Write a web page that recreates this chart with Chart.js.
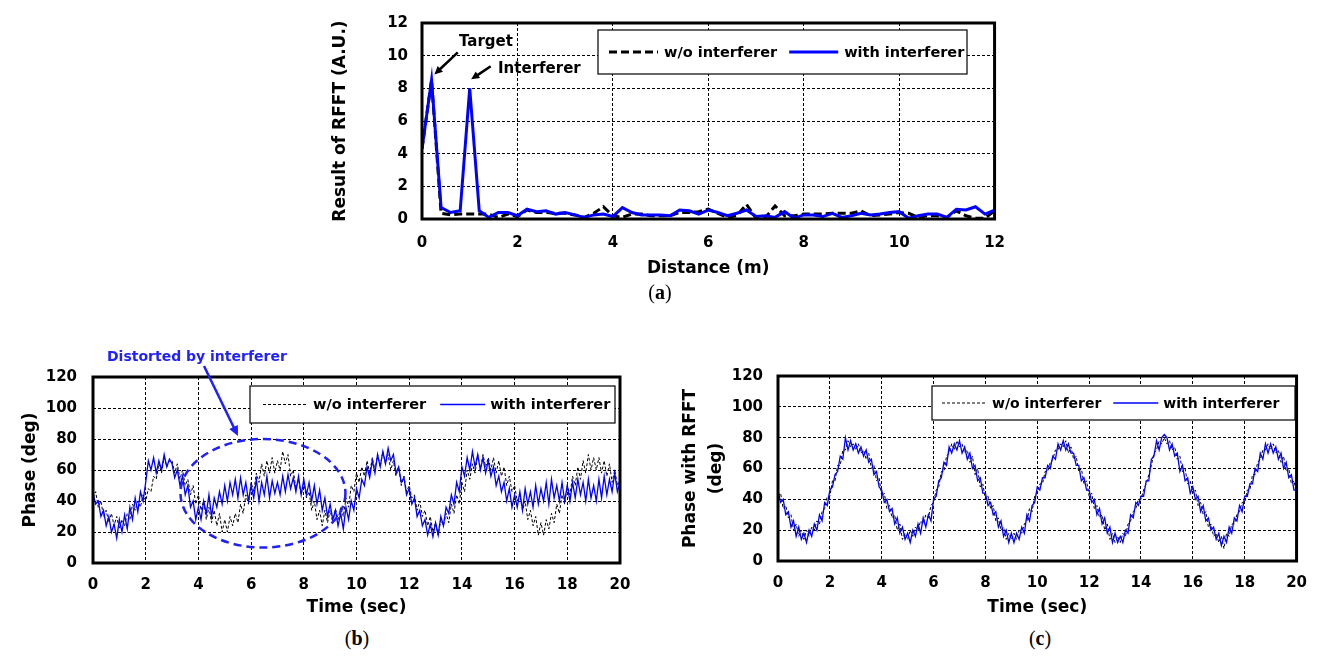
<!DOCTYPE html>
<html>
<head>
<meta charset="utf-8">
<script src="https://cdn.jsdelivr.net/npm/chart.js@4/dist/chart.umd.min.js"></script>
<style>
  body { margin: 0; width: 1320px; height: 658px; background: #fff; position: relative; overflow: hidden; }
  canvas { position: absolute; }
  .cap { position: absolute; font-family: "Liberation Serif"; font-size: 20px; transform: translateX(-50%); color: #000; }
</style>
</head>
<body>
<canvas id="chartA" width="720" height="290" style="left:300px;top:0px"></canvas>
<canvas id="chartB" width="650" height="285" style="left:0px;top:340px"></canvas>
<canvas id="chartC" width="660" height="285" style="left:660px;top:340px"></canvas>
<div class="cap" style="left:660px;top:281px">(<b>a</b>)</div>
<div class="cap" style="left:357px;top:627px">(<b>b</b>)</div>
<div class="cap" style="left:1040px;top:627px">(<b>c</b>)</div>
<script>
// (a) range profile, one sample every 0.2 m
const distStep = 0.2;
const rfftNoInterferer = [4.3, 8.5, 0.35, 0.25, 0.3, 0.3, 0.3, 0.3, 0.1, 0.3,
  0.15, 0.55, 0.4, 0.4, 0.35, 0.35, 0.25, 0.1, 0.35, 0.75,
  0.2, 0.1, 0.3, 0.3, 0.2, 0.2, 0.2, 0.4, 0.4, 0.45,
  0.6, 0.35, 0.1, 0.2, 0.9, 0.05, 0.1, 0.8, 0.2, 0.2,
  0.3, 0.3, 0.3, 0.35, 0.35, 0.35, 0.5, 0.2, 0.25, 0.3,
  0.4, 0.35, 0.1, 0.2, 0.2, 0.1, 0.5, 0.2, 0.05, 0.05, 0.5];
const rfftWithInterferer = [4.3, 8.5, 0.7, 0.4, 0.5, 8.0, 0.5, 0.1, 0.4, 0.4,
  0.2, 0.6, 0.45, 0.5, 0.3, 0.4, 0.25, 0.1, 0.25, 0.3,
  0.15, 0.7, 0.4, 0.25, 0.25, 0.25, 0.2, 0.55, 0.5, 0.3,
  0.55, 0.4, 0.2, 0.35, 0.55, 0.15, 0.2, 0.1, 0.45, 0.05,
  0.25, 0.25, 0.15, 0.35, 0.1, 0.2, 0.35, 0.25, 0.3, 0.4,
  0.45, 0.05, 0.2, 0.3, 0.3, 0.1, 0.6, 0.55, 0.75, 0.3, 0.55];

// (b) and (c) phase, one sample every 0.1 s
const timeStep = 0.1;
const phaseNoInterferer = [42,46,36,40,30,34,26,32,24,30,
  22,28,24,32,28,38,34,40,36,44,
  40,48,46,56,54,64,58,68,62,66,
  66,58,64,54,60,50,54,44,50,38,
  44,34,40,28,36,26,34,24,32,20,
  28,20,30,24,32,26,38,32,44,38,
  52,46,58,52,64,56,66,58,68,58,
  66,60,72,64,70,56,60,48,54,44,
  52,42,46,34,40,28,34,24,34,26,
  34,26,35,28,36,30,42,36,50,46,
  58,52,62,56,66,58,68,60,70,62,
  72,64,70,60,66,56,62,50,56,46,
  50,42,44,34,40,30,34,24,30,20,
  26,18,28,24,32,26,38,32,44,38,
  52,46,60,54,64,58,70,60,70,62,
  68,60,68,58,66,56,62,50,56,46,
  50,40,44,34,40,28,34,24,30,18,
  26,18,28,22,32,26,38,32,44,38,
  50,44,56,50,62,54,66,58,70,60,
  68,60,68,58,66,56,64,52,60,50,
  54];
const phaseWithInterferer = [45,38,40,30,34,24,30,20,25,16,
  28,20,31,22,36,28,42,33,46,40,
  52,66,60,68,58,66,60,70,62,67,
  64,55,60,50,56,44,50,36,40,28,
  36,28,40,32,44,30,42,36,46,38,
  50,40,52,44,54,42,55,44,52,40,
  50,42,54,40,52,44,56,42,53,45,
  52,44,56,46,57,48,55,46,56,44,
  54,44,52,40,50,38,47,34,42,30,
  38,28,34,24,32,22,36,28,40,34,
  48,42,54,50,62,55,66,58,70,62,
  72,64,74,66,70,58,62,52,55,44,
  48,38,42,30,34,24,28,18,25,17,
  26,18,30,24,36,32,44,38,52,46,
  62,56,68,60,72,62,70,60,68,58,
  66,56,62,50,56,46,52,40,48,36,
  44,36,46,34,48,38,46,36,50,38,
  48,40,52,38,54,42,50,40,52,40,
  50,40,52,42,54,44,52,40,54,42,
  50,40,54,42,56,44,54,46,58,46,
  52];
const rfftPhaseNoInterferer = [42,44,34,36,28,30,20,24,16,20,
  14,20,16,22,20,26,24,32,34,42,
  42,52,52,62,62,72,72,78,74,76,
  72,76,70,72,66,70,60,62,52,54,
  42,44,34,36,28,30,20,24,14,18,
  14,20,16,22,20,26,24,30,28,36,
  38,46,48,58,58,68,70,76,72,78,
  74,76,70,72,64,68,56,60,48,50,
  40,42,34,36,26,28,20,22,14,18,
  14,18,14,20,18,24,26,34,32,42,
  44,50,50,58,58,64,66,72,72,76,
  74,78,70,74,66,68,58,60,50,52,
  42,44,34,36,28,30,20,24,14,18,
  12,16,12,18,16,24,26,32,34,40,
  40,46,50,56,62,70,72,78,76,80,
  76,78,72,74,66,68,58,60,50,52,
  44,46,36,38,30,32,22,24,16,18,
  12,16,8,18,16,24,24,30,32,38,
  38,46,46,56,56,64,66,72,72,76,
  72,76,70,72,64,68,58,60,50,52,
  44];
const rfftPhaseWithInterferer = [46,38,40,30,32,22,26,16,22,14,
  18,12,20,16,24,20,30,26,38,36,
  46,48,56,58,68,66,80,72,78,72,
  76,70,74,68,72,64,66,56,58,48,
  46,38,40,32,34,24,28,18,22,14,
  18,12,20,16,24,18,28,22,30,26,
  40,42,52,54,64,62,74,70,76,72,
  78,70,74,66,70,60,62,52,54,44,
  44,36,38,30,32,22,26,16,20,12,
  18,12,18,14,22,18,30,26,36,38,
  48,46,54,54,62,60,68,66,76,72,
  78,72,76,70,70,62,62,52,54,46,
  46,38,40,30,34,24,28,18,22,12,
  18,12,16,12,20,18,30,28,38,36,
  42,42,52,52,66,68,78,72,80,82,
  80,72,76,68,70,58,62,52,54,44,
  48,40,42,32,36,26,28,20,22,14,
  18,10,16,12,22,18,28,26,36,32,
  42,42,50,50,60,58,70,66,76,70,
  76,70,74,66,70,60,64,54,56,46,
  46];

const legendLabels = ["w/o interferer", "with interferer"];
const FONT = "DejaVu Sans";

function toPoints(values, step) {
  return values.map((v, i) => ({ x: +(i * step).toFixed(2), y: v }));
}

function drawArrow(ctx, x1, y1, x2, y2, color, width, head) {
  const ang = Math.atan2(y2 - y1, x2 - x1);
  ctx.save();
  ctx.strokeStyle = color;
  ctx.fillStyle = color;
  ctx.lineWidth = width;
  ctx.beginPath();
  ctx.moveTo(x1, y1);
  ctx.lineTo(x2 - Math.cos(ang) * head * 0.8, y2 - Math.sin(ang) * head * 0.8);
  ctx.stroke();
  ctx.beginPath();
  ctx.moveTo(x2, y2);
  ctx.lineTo(x2 - head * Math.cos(ang - 0.45), y2 - head * Math.sin(ang - 0.45));
  ctx.lineTo(x2 - head * Math.cos(ang + 0.45), y2 - head * Math.sin(ang + 0.45));
  ctx.closePath();
  ctx.fill();
  ctx.restore();
}

// thick plot frame + boxed legend
const framePlugin = {
  id: "frame",
  afterDatasetsDraw(chart, args, opts) {
    const { ctx, chartArea: a } = chart;
    ctx.save();
    ctx.strokeStyle = "#000";
    ctx.lineWidth = 3;
    ctx.strokeRect(a.left, a.top, a.right - a.left, a.bottom - a.top);

    const box = opts.box;
    ctx.fillStyle = "#fff";
    ctx.fillRect(box.x, box.y, box.w, box.h);
    ctx.lineWidth = 1.2;
    ctx.strokeRect(box.x, box.y, box.w, box.h);
    ctx.font = "bold " + opts.fontSize + "px " + FONT;
    ctx.textBaseline = "middle";
    ctx.fillStyle = "#000";
    let x = box.x + opts.pad;
    const cy = box.y + box.h / 2;
    chart.data.datasets.forEach((ds) => {
      ctx.save();
      ctx.strokeStyle = ds.borderColor;
      ctx.lineWidth = ds.borderWidth;
      ctx.setLineDash(ds.borderDash || []);
      ctx.beginPath();
      ctx.moveTo(x, cy);
      ctx.lineTo(x + opts.sample, cy);
      ctx.stroke();
      ctx.restore();
      x += opts.sample + opts.gap;
      ctx.fillText(ds.label, x, cy + 1);
      x += ctx.measureText(ds.label).width + opts.spacing;
    });
    ctx.restore();
  },
};

function baseOptions(cfg) {
  return {
    responsive: false,
    animation: false,
    layout: { padding: cfg.padding },
    plugins: {
      legend: { display: false },
      tooltip: { enabled: false },
      frame: cfg.legend,
    },
    scales: {
      x: {
        type: "linear",
        min: 0,
        max: cfg.xMax,
        afterFit: (s) => { s.height = cfg.xAxisHeight; },
        ticks: { stepSize: cfg.xStep, color: "#000", padding: cfg.xTickPad, font: { family: FONT, size: 15, weight: "bold" } },
        grid: { color: "#000", lineWidth: 1, drawTicks: false },
        border: { display: false, dash: [3, 2] },
        title: { display: true, text: cfg.xTitle, color: "#000", padding: { top: 0, bottom: cfg.xTitlePad }, font: { family: FONT, size: 17, weight: "bold" } },
      },
      y: {
        min: 0,
        max: cfg.yMax,
        afterFit: (s) => { s.width = cfg.yAxisWidth; },
        ticks: { stepSize: cfg.yStep, color: "#000", padding: cfg.yTickPad, font: { family: FONT, size: 15, weight: "bold" } },
        grid: { color: "#000", lineWidth: 1, drawTicks: false },
        border: { display: false, dash: [3, 2] },
        title: { display: true, text: cfg.yTitle, color: "#000", padding: { top: cfg.yTitlePad, bottom: 0 }, font: { family: FONT, size: 17, weight: "bold", lineHeight: 1.5 } },
      },
    },
  };
}

// (a)
const annotA = {
  id: "annotA",
  afterDatasetsDraw(chart) {
    const { ctx, scales: { x, y } } = chart;
    ctx.save();
    ctx.font = "bold 15px " + FONT;
    ctx.fillStyle = "#000";
    ctx.textAlign = "center";
    ctx.textBaseline = "middle";
    ctx.fillText("Target", x.getPixelForValue(1.34), y.getPixelForValue(10.8));
    ctx.fillText("Interferer", x.getPixelForValue(2.46), y.getPixelForValue(9.2));
    drawArrow(ctx, x.getPixelForValue(0.75), y.getPixelForValue(10.2), x.getPixelForValue(0.26), y.getPixelForValue(8.85), "#000", 2.5, 9);
    drawArrow(ctx, x.getPixelForValue(1.44), y.getPixelForValue(9.35), x.getPixelForValue(1.03), y.getPixelForValue(8.55), "#000", 2.5, 9);
    ctx.restore();
  },
};

new Chart(document.getElementById("chartA"), {
  type: "line",
  data: {
    datasets: [
      { label: legendLabels[0], data: toPoints(rfftNoInterferer, distStep), borderColor: "#000", borderWidth: 3, borderDash: [8, 4], pointRadius: 0, tension: 0, order: 1 },
      { label: legendLabels[1], data: toPoints(rfftWithInterferer, distStep), borderColor: "#0000ff", borderWidth: 3, pointRadius: 0, tension: 0, order: 0 },
    ],
  },
  options: baseOptions({
    padding: { top: 19, right: 23, left: 0, bottom: 0 },
    xMax: 12, xStep: 2, yMax: 12, yStep: 2,
    xAxisHeight: 71, yAxisWidth: 122, xTickPad: 15, yTickPad: 14,
    xTitle: "Distance (m)", xTitlePad: 11,
    yTitle: "Result of RFFT (A.U.)", yTitlePad: 28,
    legend: { box: { x: 298, y: 30, w: 369, h: 44 }, pad: 11, sample: 49, gap: 6, spacing: 12, fontSize: 14.5 },
  }),
  plugins: [framePlugin, annotA],
});

// (b)
const annotB = {
  id: "annotB",
  afterDatasetsDraw(chart) {
    const { ctx, scales: { x, y } } = chart;
    ctx.save();
    ctx.strokeStyle = "#1f1fff";
    ctx.lineWidth = 2.5;
    ctx.setLineDash([8, 5]);
    const cx = x.getPixelForValue(6.45), cy = y.getPixelForValue(45);
    const rx = x.getPixelForValue(9.58) - cx, ry = cy - y.getPixelForValue(80);
    ctx.beginPath();
    ctx.ellipse(cx, cy, rx, ry, 0, 0, Math.PI * 2);
    ctx.stroke();
    ctx.setLineDash([]);
    ctx.font = "bold 14px " + FONT;
    ctx.fillStyle = "#1f1fff";
    ctx.textBaseline = "middle";
    ctx.fillText("Distorted by interferer", 107, 17);
    drawArrow(ctx, 204, 26, x.getPixelForValue(5.5), y.getPixelForValue(82), "#1f1fff", 2.5, 11);
    ctx.restore();
  },
};

new Chart(document.getElementById("chartB"), {
  type: "line",
  data: {
    datasets: [
      { label: legendLabels[0], data: toPoints(phaseNoInterferer, timeStep), borderColor: "#000", borderWidth: 1, borderDash: [3, 2], pointRadius: 0, tension: 0, order: 1 },
      { label: legendLabels[1], data: toPoints(phaseWithInterferer, timeStep), borderColor: "#0000ff", borderWidth: 1.3, pointRadius: 0, tension: 0, order: 0 },
    ],
  },
  options: baseOptions({
    padding: { top: 37, right: 30, left: 0, bottom: 0 },
    xMax: 20, xStep: 2, yMax: 120, yStep: 20,
    xAxisHeight: 62, yAxisWidth: 93, xTickPad: 13, yTickPad: 16,
    xTitle: "Time (sec)", xTitlePad: 7,
    yTitle: "Phase (deg)", yTitlePad: 18,
    legend: { box: { x: 250, y: 46, w: 365, h: 37 }, pad: 13, sample: 45, gap: 5, spacing: 14, fontSize: 14.5 },
  }),
  plugins: [framePlugin, annotB],
});

// (c)
new Chart(document.getElementById("chartC"), {
  type: "line",
  data: {
    datasets: [
      { label: legendLabels[0], data: toPoints(rfftPhaseNoInterferer, timeStep), borderColor: "#000", borderWidth: 1, borderDash: [3, 2], pointRadius: 0, tension: 0, order: 1 },
      { label: legendLabels[1], data: toPoints(rfftPhaseWithInterferer, timeStep), borderColor: "#0000ff", borderWidth: 1.3, pointRadius: 0, tension: 0, order: 0 },
    ],
  },
  options: baseOptions({
    padding: { top: 36, right: 20, left: 0, bottom: 0 },
    xMax: 20, xStep: 2, yMax: 120, yStep: 20,
    xAxisHeight: 64, yAxisWidth: 118, xTickPad: 13, yTickPad: 15,
    xTitle: "Time (sec)", xTitlePad: 7,
    yTitle: ["Phase with RFFT", "(deg)"], yTitlePad: 18,
    legend: { box: { x: 272, y: 46, w: 363, h: 34 }, pad: 10, sample: 45, gap: 5, spacing: 12, fontSize: 14 },
  }),
  plugins: [framePlugin],
});
</script>
</body>
</html>
